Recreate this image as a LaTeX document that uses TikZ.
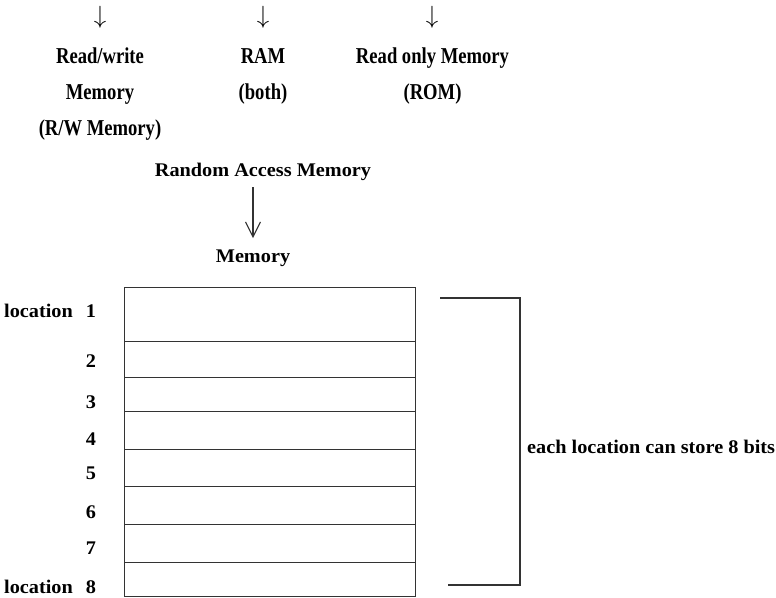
\documentclass[tikz,border=0pt]{standalone}
\usepackage{fontspec}
\setmainfont{Liberation Serif}
\newfontfamily\topfont{Liberation Serif}[FakeStretch=0.82]
\newfontfamily\lblfont{Liberation Serif}[FakeStretch=1.05]
\usetikzlibrary{arrows.meta}
\begin{document}
\begin{tikzpicture}[x=1pt,y=-1pt,
  toptext/.style={font=\topfont\bfseries\fontsize{22.7}{36}\selectfont, align=center, inner sep=0pt, anchor=base},
  dnarrow/.style={font=\fontsize{23.6}{24}\selectfont, inner sep=0pt},
  lbl/.style={font=\lblfont\bfseries\fontsize{19.3}{22}\selectfont, inner sep=0pt},
  cell/.style={draw=black!80, line width=1.3pt, minimum width=291.5pt, inner sep=0pt, anchor=north west},
  conn/.style={draw=black!80, line width=1.3pt}]
\useasboundingbox (0,0) rectangle (776,597);

% top row (anchor base = baseline of the last line)
\node[dnarrow] (a1) at (100,17.5) {$\downarrow$};
\node[dnarrow] (a2) at (263,17.5) {$\downarrow$};
\node[dnarrow] (a3) at (432,17.5) {$\downarrow$};
\node[toptext] (rw)  at (100,135) {Read/write\\Memory\\(R/W Memory)};
\node[toptext] (rb)  at (263,99) {RAM\\(both)};
\node[toptext] (rom) at (432.5,99) {Read only Memory\\(ROM)};

% middle
\node[lbl, anchor=base] (ram) at (263,176) {Random Access Memory};
\node[lbl, anchor=base] (mem) at (253,262) {Memory};
\draw[conn, line width=1.1pt, shorten <=7pt, shorten >=11pt,
  -{Straight Barb[length=15pt,width=15pt,line width=1.1pt]}]
  (ram.south -| mem.north) -- (mem.north);

% memory cells
\foreach \i/\t/\h in {1/287/54, 2/341/36, 3/377/34, 4/411/38, 5/449/37, 6/486/38, 7/524/38, 8/562/34}{
  \node[cell, minimum height=\h pt] (c\i) at (123.5,\t) {};
}

% location labels
\foreach \i/\y in {1/311, 2/361, 3/402, 4/439, 5/473, 6/512, 7/548, 8/587}{
  \node[lbl] (n\i) at (91,\y) {\i};
}
\node[lbl, anchor=east] (loc1) at (73,311) {location};
\node[lbl, anchor=east] (loc8) at (73,587) {location};

% bracket
\coordinate (bt1) at (440,298);
\coordinate (bt2) at (520,298);
\coordinate (bb2) at (520,585);
\coordinate (bb1) at (448,585);
\draw[conn] (bt1) -- (bt2) -- (bb2) -- (bb1);
\node[lbl, anchor=west] (each) at (527,447) {each location can store 8 bits};
\end{tikzpicture}
\end{document}
